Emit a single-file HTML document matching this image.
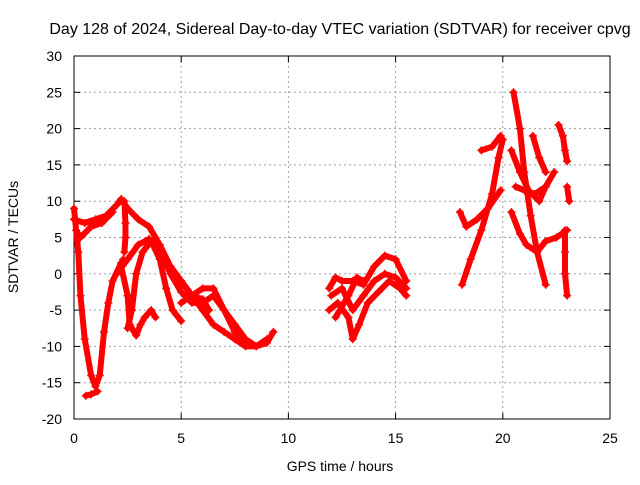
<!DOCTYPE html>
<html><head><meta charset="utf-8"><style>
body{margin:0;background:#fff}
svg{font-family:"Liberation Sans",sans-serif;font-size:14px}
</style></head><body>
<svg id="c" width="640" height="480"></svg>
<script>
const xTicks=[0,5,10,15,20,25];
const yTicks=[-20,-15,-10,-5,0,5,10,15,20,25,30];
const traceA=[[0,9],[0.2,3],[0.3,-3],[0.5,-9],[0.8,-14],[1.0,-15.5],[1.2,-14],[1.4,-8],[1.6,-4],[1.8,-1],[2.2,1.5],[2.3,2]];
const traceA2=[[0.55,-16.8],[0.8,-16.6],[1.1,-16.2]];
const traceB=[[0,7.5],[0.5,7],[1,7.5],[1.5,8],[2.0,9.5],[2.2,10.3],[2.5,9],[3,7.5],[3.5,6.5],[4,4],[4.5,1],[5,-1],[5.5,-3],[6,-5],[6.5,-7],[7,-8],[7.5,-9],[8,-10],[8.5,-10],[9,-9]];
const traceB2=[[0.1,6],[0.3,5],[0.8,6.5],[1.3,7],[1.8,8.5]];
const traceB3=[[2.35,10],[2.4,7],[2.4,5],[2.35,3]];
const traceC=[[2.2,1],[2.5,-3],[2.6,-7],[2.9,-8.5],[3.1,-7],[3.3,-6],[3.6,-5],[3.8,-6]];
const traceD=[[2,0],[2.5,2],[3,4],[3.5,4.8],[4,3.5],[4.5,0],[5,-2.5],[5.5,-4],[6,-4],[6.5,-3],[7,-5],[7.5,-7],[8,-9],[8.5,-10],[9,-9.5],[9.3,-8]];
const traceE=[[2.5,-7.5],[2.7,-5],[2.9,0],[3.2,3],[3.6,4.5],[4,2],[4.3,-2],[4.6,-5],[5,-6.5]];
const traceF=[[5,-4],[5.5,-3],[6,-2],[6.5,-2],[7,-5],[7.5,-8],[8,-9.5]];
const traceG=[[4,2.5],[4.5,1],[5,-1],[5.5,-3],[6,-3.5],[6.3,-5]];
const traceM1=[[11.9,-2],[12.2,-0.5],[12.5,-1],[13,-1],[13.5,-1.5],[14,1],[14.5,2.5],[15,2],[15.5,-1]];
const traceM2=[[11.9,-5],[12.3,-4],[12.8,-6],[13,-9],[13.3,-7],[13.7,-4],[14.2,-2.5],[14.7,-1],[15.2,-2],[15.5,-3]];
const traceM3=[[12,-3],[12.5,-2],[13,-5],[13.5,-3],[14,-1],[14.5,0],[15,-0.5],[15.5,-2]];
const traceM4=[[12.2,-6],[12.8,-3],[13.2,-0.5],[13.5,-1]];
const traceR1=[[18.1,-1.5],[18.5,2],[19,6],[19.5,11],[19.8,16],[20,18.5]];
const traceR2=[[18,8.5],[18.3,6.5],[18.8,7.5],[19.3,9],[19.9,11.5]];
const traceR2b=[[19,17],[19.5,17.5],[19.9,19]];
const traceR3=[[20.5,25],[20.8,20],[21,14],[21.3,8],[21.6,3],[22,-1.5]];
const traceR4=[[20.4,8.5],[20.8,5.5],[21.1,4],[21.6,3],[22,4.5],[22.5,5],[23,6]];
const traceR5=[[20.4,17],[20.8,14],[21.2,11.5],[21.7,10],[22,12],[22.4,14]];
const traceR6=[[21.4,19],[21.7,16],[22,14]];
const traceR7=[[22.6,20.5],[22.8,19],[22.9,17],[23,15.5]];
const traceR8=[[20.6,12],[21,11.5],[21.5,11],[22,12]];
const traceR9=[[23,12],[23.1,10]];
const traceR10=[[22.9,6],[22.9,3],[22.9,0],[23,-3]];
const traces=[traceA,traceA2,traceB,traceB2,traceB3,traceC,traceD,traceE,traceF,traceG,traceM1,traceM2,traceM3,traceM4,traceR1,traceR2,traceR2b,traceR3,traceR4,traceR5,traceR6,traceR7,traceR8,traceR9,traceR10];

const L=74,R=610,T=56,B=419;
const xs=h=>L+(h-0)/25*(R-L);
const ys=v=>B-(v+20)/50*(B-T);
const svg=document.getElementById('c');
const NS='http://www.w3.org/2000/svg';
function mk(tag,attrs,parent){const e=document.createElementNS(NS,tag);for(const k in attrs)e.setAttribute(k,attrs[k]);(parent||svg).appendChild(e);return e;}

const t=mk('text',{x:340,y:34,'text-anchor':'middle','font-size':'16px'});t.textContent='Day 128 of 2024, Sidereal Day-to-day VTEC variation (SDTVAR) for receiver cpvg';



xTicks.forEach(v=>{const x=xs(v);
 if(v>0&&v<25){const g=mk('line',{x1:x,y1:T,x2:x,y2:B,stroke:'#a0a0a0','stroke-dasharray':'2,3'});
 
 }
 mk('line',{x1:x,y1:B,x2:x,y2:B-6,stroke:'#000'});mk('line',{x1:x,y1:T,x2:x,y2:T+6,stroke:'#000'});
 const l=mk('text',{x:x,y:B+24,'text-anchor':'middle'});l.textContent=v;
 
 });
yTicks.forEach(v=>{const y=ys(v);
 if(v>-20&&v<30){const g=mk('line',{x1:L,y1:y,x2:R,y2:y,stroke:'#a0a0a0','stroke-dasharray':'2,3'});
 
 }
 mk('line',{x1:L,y1:y,x2:L+6,y2:y,stroke:'#000'});mk('line',{x1:R,y1:y,x2:R-6,y2:y,stroke:'#000'});
 const l=mk('text',{x:L-12,y:y+5,'text-anchor':'end'});l.textContent=v;
 
 });
const bd=mk('rect',{x:L,y:T,width:R-L,height:B-T,fill:'none',stroke:'#000'});



traces.forEach(tr=>{
 const p=mk('polyline',{points:tr.map(d=>xs(d[0])+','+ys(d[1])).join(' '),fill:'none',stroke:'#f00','stroke-width':6,'stroke-linejoin':'round','stroke-linecap':'round'});
 
 
 tr.forEach(d=>{const x=xs(d[0]),y=ys(d[1]);
  const m=mk('path',{d:`M${x-4},${y}H${x+4}M${x},${y-4}V${y+4}`,stroke:'#f00','stroke-width':1.5});
  
  });
});

const xl=mk('text',{x:340,y:471,'text-anchor':'middle'});xl.textContent='GPS time / hours';


const yl=mk('text',{x:18,y:237,'text-anchor':'middle',transform:'rotate(-90 18 237)'});yl.textContent='SDTVAR / TECUs';


</script>
</body></html>
